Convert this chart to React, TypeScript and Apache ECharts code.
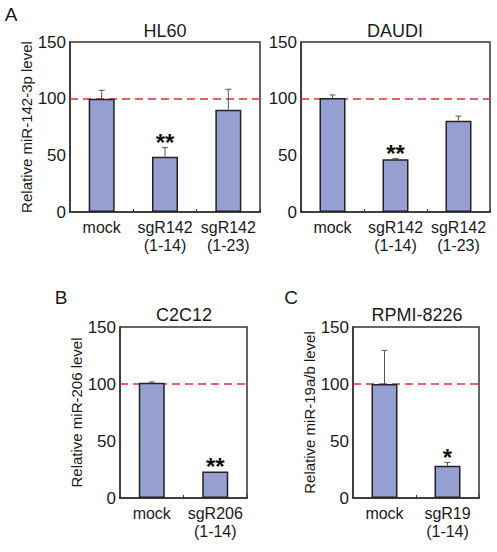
import React, { useEffect, useRef } from "react";
import * as echarts from "echarts";

const catsA = ["mock", "sgR142\n(1-14)", "sgR142\n(1-23)"];
const catsB = ["mock", "sgR206\n(1-14)"];
const catsC = ["mock", "sgR19\n(1-14)"];

const hl60Values = [100, 48.8, 90.3];
const hl60Err = [7.4, 8, 18];
const hl60Stars = ["", "**", ""];

const daudiValues = [100.5, 46.5, 80.6];
const daudiErr = [2.8, 0.6, 4];
const daudiStars = ["", "**", ""];

const c2c12Values = [101, 23.3];
const c2c12Err = [0.8, 0];
const c2c12Stars = ["", "**"];

const rpmiValues = [100, 28.3];
const rpmiErr = [29.5, 2.9];
const rpmiStars = ["", "*"];

const yTicks = { min: 0, max: 150, interval: 50 };

const FONT = "'Liberation Sans', Arial, Helvetica, sans-serif";
const TXT = "#1a1a1a";
const AX = "#333";
const BAR = "#959fd1";
const RED = "#e0302f";

const panels = [
  { cats: catsA, values: hl60Values, err: hl60Err, stars: hl60Stars, grid: { left: 70, top: 42, width: 190, height: 170 }, yName: "Relative miR-142-3p level" },
  { cats: catsA, values: daudiValues, err: daudiErr, stars: daudiStars, grid: { left: 301, top: 42, width: 189, height: 170 }, yName: "" },
  { cats: catsB, values: c2c12Values, err: c2c12Err, stars: c2c12Stars, grid: { left: 120, top: 327, width: 127, height: 171 }, yName: "Relative miR-206 level" },
  { cats: catsC, values: rpmiValues, err: rpmiErr, stars: rpmiStars, grid: { left: 353, top: 327, width: 126, height: 171 }, yName: "Relative miR-19a/b level" },
];

function makeErr(stars: string[]) {
  return (params: any, api: any) => {
    const i = api.value(0);
    const v = api.value(1);
    const e = api.value(2);
    const base = api.coord([i, v]);
    const top = api.coord([i, v + e]);
    const children: any[] = [];
    if (e > 0) {
      children.push({ type: "line", shape: { x1: base[0], y1: base[1], x2: top[0], y2: top[1] }, style: { stroke: "#555", lineWidth: 1 } });
      children.push({ type: "line", shape: { x1: top[0] - 3, y1: top[1], x2: top[0] + 3, y2: top[1] }, style: { stroke: "#555", lineWidth: 1 } });
    }
    const s = stars[params.dataIndex];
    if (s) {
      children.push({
        type: "text",
        x: top[0],
        y: top[1] - 5,
        style: { text: s, fontSize: 24, fontWeight: "bold", fontFamily: FONT, align: "center", verticalAlign: "middle", fill: "#111" },
      });
    }
    return { type: "group", children };
  };
}

export default function App() {
  const ref = useRef<HTMLDivElement>(null);
  useEffect(() => {
    if (!ref.current) return;
    const chart = echarts.init(ref.current, null, { renderer: "svg" });
    const grid: any[] = [];
    const xAxis: any[] = [];
    const yAxis: any[] = [];
    const series: any[] = [];
    panels.forEach((p, k) => {
      grid.push({ ...p.grid, show: true, borderColor: AX, borderWidth: 1.5, backgroundColor: "transparent" });
      xAxis.push({
        type: "category",
        gridIndex: k,
        data: p.cats,
        axisLine: { show: true, lineStyle: { color: AX, width: 1.5 } },
        axisTick: { show: true, inside: true, length: 3, lineStyle: { color: AX, width: 1 } },
        axisLabel: { interval: 0, fontSize: 16, lineHeight: 18, margin: 6, color: TXT, fontFamily: FONT },
      });
      yAxis.push({
        type: "value",
        gridIndex: k,
        ...yTicks,
        name: p.yName,
        nameLocation: "middle",
        nameGap: 34,
        nameTextStyle: { fontSize: 15, color: TXT, fontFamily: FONT },
        axisLine: { show: true, lineStyle: { color: AX, width: 1.5 } },
        axisTick: { show: false },
        splitLine: { show: false },
        axisLabel: { fontSize: 17, margin: 4, color: TXT, fontFamily: FONT },
      });
      series.push({
        type: "bar",
        xAxisIndex: k,
        yAxisIndex: k,
        data: p.values,
        barWidth: 26,
        z: 3,
        itemStyle: { color: BAR, borderColor: "#222", borderWidth: 1.5 },
        markLine: {
          silent: true,
          z: 2,
          symbol: ["none", "none"],
          label: { show: false },
          lineStyle: { color: RED, type: [8, 5], width: 1.5 },
          data: [{ yAxis: 100 }],
        },
      });
      series.push({
        type: "custom",
        xAxisIndex: k,
        yAxisIndex: k,
        data: p.values.map((v, i) => [i, v, p.err[i]]),
        renderItem: makeErr(p.stars),
        z: 5,
      });
    });
    const txt = (text: string, x: number, y: number, size: number) => ({
      type: "text",
      x,
      y,
      style: { text, fontSize: size, fontFamily: FONT, fill: TXT, align: "center", verticalAlign: "middle" },
    });
    chart.setOption({
      animation: false,
      backgroundColor: "#fff",
      grid,
      xAxis,
      yAxis,
      series,
      graphic: [
        txt("A", 11, 14, 19),
        txt("B", 61, 297, 19),
        txt("C", 291, 297, 19),
        txt("HL60", 165, 31, 18),
        txt("DAUDI", 395, 31, 18),
        txt("C2C12", 184, 315, 18),
        txt("RPMI-8226", 417, 315, 18),
      ],
    });
    return () => chart.dispose();
  }, []);
  return <div ref={ref} style={{ position: "fixed", left: 0, top: 0, width: 497, height: 552 }} />;
}
